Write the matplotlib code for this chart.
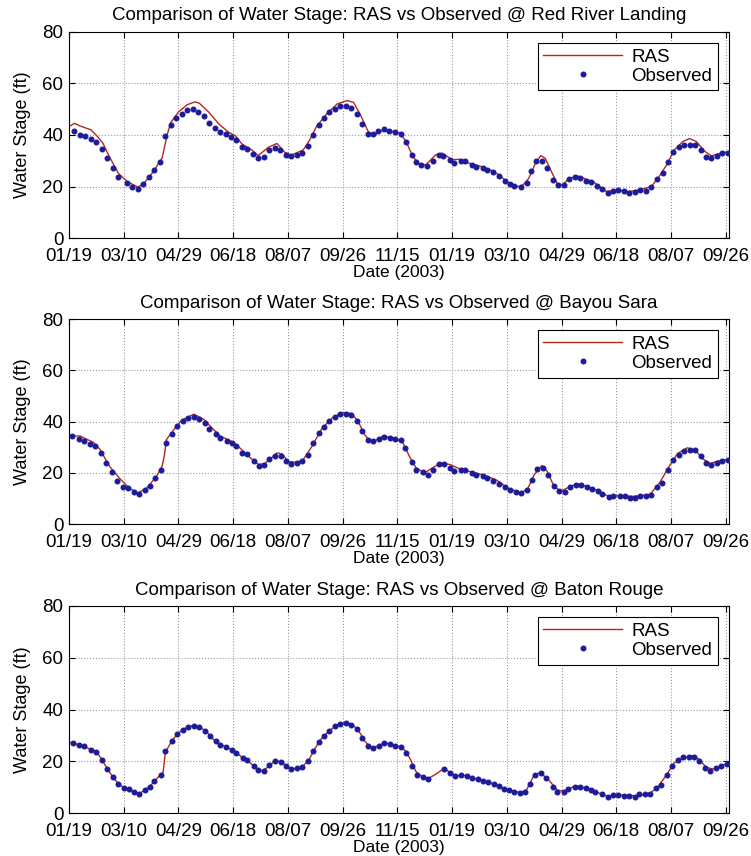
import numpy as np
import matplotlib
matplotlib.use("Agg")
from matplotlib import pyplot as plt

plt.rcParams['font.family'] = ['Liberation Sans', 'DejaVu Sans']

# x axis: days after 01/19/2003, tick every 50 days
tick_days = [0, 50, 100, 150, 200, 250, 300, 350, 400, 450, 500, 550, 600]
tick_labels = ['01/19', '03/10', '04/29', '06/18', '08/07', '09/26', '11/15',
               '01/19', '03/10', '04/29', '06/18', '08/07', '09/26']

# ---- Red River Landing ----
rrl_obs_days = [5, 10, 15, 20, 25, 30, 35, 40, 45, 53, 58, 63, 68, 73, 78, 83, 88, 93, 98, 103,
                108, 113, 118, 123, 128, 133, 138, 143, 148, 153, 158, 163, 168, 173, 178, 183,
                188, 193, 198, 203, 208, 213, 218, 223, 228, 233, 238, 243, 248, 253, 258, 263,
                268, 273, 278, 282, 288, 292, 298, 303, 308, 313, 317, 322, 327, 333, 338, 342,
                348, 352, 358, 362, 368, 372, 378, 382, 387, 393, 398, 403, 407, 413, 418, 422,
                427, 432, 437, 442, 447, 452, 457, 462, 467, 472, 477, 482, 487, 492, 497, 502,
                507, 512, 517, 522, 527, 532, 537, 543, 547, 552, 557, 562, 567, 572, 577, 582,
                587, 592, 597, 602]
rrl_obs = [41.5, 40, 39.5, 38.4, 37.2, 34.5, 30.9, 27.2, 23.9, 21.5, 19.9, 19.2, 21, 23.6, 26.5,
           29.7, 39.7, 43.8, 46.6, 48.2, 49.5, 50.2, 49, 47.4, 44.6, 42.5, 41.1, 40.2, 39.1, 38,
           35.3, 34.7, 32.6, 31, 31.6, 34, 34.9, 34.1, 32.2, 31.8, 32.2, 32.9, 35.8, 40, 43.8,
           46.4, 48.7, 50, 51.3, 51.3, 50.6, 48.2, 44.2, 40.5, 40.4, 41.5, 42.4, 41.7, 41.2, 40.5,
           37.2, 32.2, 29.7, 28.4, 28, 30.1, 32.2, 32, 30.3, 29.3, 30.1, 29.8, 28.4, 27.5, 27.4,
           26.6, 25.6, 24, 22.3, 21, 20.2, 20, 21.3, 26.2, 30.1, 30.1, 27.4, 22.6, 20.7, 20.7,
           23.1, 23.6, 23.5, 22.1, 21.7, 20.3, 19, 17.4, 18.5, 18.7, 18.5, 17.4, 18.1, 18.7, 18.5,
           20, 23, 25.2, 29.7, 33.5, 35.3, 36.2, 36.2, 36.2, 34, 31.6, 30.9, 31.9, 32.9, 33.1]
rrl_ras_days = [1, 5, 10, 20, 26, 31, 36, 45, 53, 63, 68, 77, 85, 90, 93, 100, 108, 115, 119, 128,
                137, 146, 152, 158, 167, 173, 182, 190, 197, 203, 214, 220, 226, 236, 245, 254,
                260, 266, 273, 278, 284, 293, 302, 308, 314, 320, 326, 335, 341, 350, 357, 366,
                375, 384, 393, 402, 411, 415, 420, 426, 431, 435, 440, 446, 451, 457, 465, 473,
                479, 485, 491, 500, 511, 521, 532, 538, 546, 553, 561, 567, 573, 581, 587, 593, 603]
rrl_ras = [43.5, 44.5, 43.5, 42, 39.4, 36.8, 32.3, 25.2, 22, 19.8, 21, 25.8, 31, 40.5, 44.8, 48.9,
           51.7, 52.8, 52.3, 48.7, 44.2, 41, 39.7, 36.5, 34.2, 32, 35.2, 36.7, 33.3, 32.2, 34.2,
           38.1, 43.2, 48.4, 52, 53.3, 52.6, 48, 41.6, 39.4, 41.6, 41.6, 40.8, 37.5, 31.7, 28.8,
           28.4, 32.3, 33, 30.4, 30.6, 29, 28, 26.7, 24.5, 21.3, 20, 20.7, 23.2, 28.9, 32, 31,
           26.5, 21.3, 20.7, 23.2, 24.1, 22.8, 21.9, 20, 18.1, 18.7, 18.1, 18.7, 20, 23.2, 28.4,
           34.2, 37.5, 38.6, 37.5, 33.6, 31.9, 32.7, 33.6]

# ---- Bayou Sara ----
bs_obs_days = [3, 9, 14, 19, 24, 29, 34, 39, 44, 49, 54, 59, 64, 69, 74, 79, 84, 89, 94, 99, 104,
               109, 114, 119, 124, 128, 134, 138, 144, 149, 153, 158, 163, 169, 174, 178, 183, 188,
               194, 198, 203, 208, 213, 218, 223, 228, 233, 238, 243, 248, 253, 258, 263, 268, 273,
               278, 283, 288, 293, 298, 303, 307, 313, 317, 323, 328, 333, 338, 343, 348, 352, 358,
               362, 368, 372, 378, 382, 387, 393, 398, 403, 408, 413, 418, 423, 428, 433, 438, 443,
               448, 453, 458, 463, 468, 473, 478, 483, 487, 493, 497, 503, 508, 513, 517, 522, 527,
               532, 537, 542, 547, 552, 557, 562, 567, 572, 577, 582, 587, 592, 597, 602]
bs_obs = [34.4, 33.1, 32.4, 31.4, 30.4, 27.6, 23.9, 20.4, 17, 14.7, 14.1, 12.5, 11.9, 13.2, 15.1,
          18, 21, 31.5, 35.3, 38.3, 40.1, 41.4, 41.8, 41.2, 39.6, 37, 35, 33.7, 32.4, 31.5, 30.4,
          27.6, 27.2, 24.5, 22.9, 23.1, 25.6, 26.8, 26.5, 24.5, 23.5, 24, 24.5, 27.1, 31.8, 35.4,
          38, 40.2, 42, 43, 43, 42.7, 40.4, 36.3, 32.8, 32.3, 33.1, 34.1, 33.5, 33.1, 32.7, 29.8,
          24.4, 21.3, 20.2, 19.3, 21, 23.5, 23.5, 22, 20.9, 21.3, 21, 20, 19.1, 19, 18, 17, 15.8,
          14.4, 13.5, 12.7, 12.3, 13.2, 17.4, 21.6, 22, 19.2, 15, 12.9, 12.7, 14.7, 15.4, 15.3,
          14.4, 13.8, 12.8, 11.9, 10.6, 11, 11.1, 10.9, 10.3, 10.4, 11.2, 11.2, 11.6, 14.5, 16.1,
          21.3, 25.2, 26.9, 28.6, 28.9, 28.8, 26.5, 23.9, 23, 23.9, 24.8, 25.2]
bs_ras_days = [1, 10, 22, 28, 37, 46, 55, 63, 71, 80, 85, 87, 89, 96, 103, 114, 123, 132, 138, 150,
               156, 164, 173, 179, 190, 195, 200, 208, 214, 222, 231, 241, 250, 258, 264, 270, 275,
               279, 287, 299, 305, 311, 317, 325, 332, 340, 348, 357, 366, 378, 390, 401, 413, 419,
               425, 432, 437, 443, 449, 455, 464, 474, 483, 492, 504, 516, 531, 540, 548, 556, 565,
               572, 580, 586, 595, 603]
bs_ras = [34.4, 34.4, 32, 29.4, 22.6, 18, 14.1, 12.2, 14.1, 18.7, 22.6, 26.5, 33, 37, 40.6, 42.9,
          40.9, 37, 34.4, 32, 29.8, 26.5, 23.3, 23.7, 27.8, 27.4, 24.5, 24.1, 25.2, 30.4, 37.3,
          41.6, 43.5, 43.2, 40.2, 35, 32.4, 32.4, 34.4, 33.3, 31.8, 26.5, 22, 20, 22, 23.9, 23.3,
          21.6, 20.6, 19.3, 17.4, 14.1, 12.2, 13.8, 19.3, 22.9, 20.6, 14.9, 12.8, 14.1, 15.8, 14.7,
          13.1, 11.1, 11.1, 10.9, 11.7, 16.4, 22.4, 27.6, 29.8, 28.9, 25.2, 23.7, 24.9, 25.4]

# ---- Baton Rouge ----
br_obs_days = [4, 9, 14, 20, 25, 30, 35, 40, 45, 50, 55, 59, 64, 69, 74, 78, 84, 88, 94, 99, 104,
               109, 114, 119, 124, 129, 134, 138, 143, 149, 153, 159, 163, 169, 173, 178, 183, 188,
               194, 198, 203, 208, 213, 218, 223, 228, 233, 238, 243, 248, 253, 258, 263, 268, 273,
               278, 283, 288, 293, 298, 303, 308, 313, 318, 323, 328, 343, 348, 353, 358, 364, 368,
               374, 378, 383, 388, 393, 397, 402, 407, 412, 417, 421, 426, 431, 436, 442, 446, 452,
               456, 462, 467, 472, 477, 481, 487, 492, 497, 502, 507, 512, 517, 521, 526, 531, 536,
               541, 546, 551, 556, 561, 566, 571, 576, 581, 586, 591, 596, 601]
br_obs = [27.1, 26.5, 25.8, 24.5, 23.5, 20.7, 17.1, 14.2, 11.2, 9.7, 9.3, 8.1, 7.5, 9, 10.3, 12.6,
          14.8, 23.9, 27.8, 30.7, 32.3, 33.2, 33.8, 33.2, 31.9, 29.7, 27.8, 26.5, 25.4, 24.5, 23.3,
          21.3, 20.4, 18.1, 16.6, 16.5, 18.7, 20, 19.9, 18.1, 17.1, 17.5, 17.8, 20, 23.9, 27.6,
          30, 31.9, 33.6, 34.5, 34.9, 34.2, 32.6, 29.1, 25.8, 25.2, 26.1, 27.1, 26.7, 26.1, 25.4,
          23.3, 18.3, 14.8, 14, 13.4, 17.1, 15.7, 14.5, 14.7, 14.5, 13.5, 13.2, 12.6, 12, 11.2,
          10.6, 9.4, 8.8, 8.4, 7.8, 8.3, 11.4, 14.7, 15.5, 13.6, 10.1, 8.4, 8.1, 9.5, 10.3, 10,
          9.7, 9, 8.3, 7.4, 6.3, 7, 7.1, 6.8, 6.7, 6.4, 7.4, 7.3, 7.5, 9.7, 11, 14.6, 18.1, 20.7,
          21.6, 21.6, 21.9, 20.3, 17.4, 16.5, 17.4, 18.3, 19.1]
br_ras_days = [1, 10, 20, 26, 31, 36, 41, 46, 52, 58, 64, 70, 76, 82, 86, 88, 94, 100, 106, 114,
               120, 126, 132, 138, 145, 152, 158, 164, 170, 176, 181, 188, 194, 200, 206, 213, 219,
               224, 230, 238, 245, 252, 258, 264, 270, 276, 282, 288, 298, 304, 308, 312, 317, 323,
               328, 334, 343, 349, 355, 362, 370, 378, 386, 393, 400, 406, 412, 418, 424, 430, 438,
               446, 453, 462, 473, 485, 493, 506, 519, 531, 538, 546, 553, 561, 570, 576, 582, 588,
               597, 602]
br_ras = [27.4, 26.3, 24.7, 23.3, 20, 16.5, 13.5, 11, 9.6, 8.4, 7.6, 9.1, 11.4, 14.2, 15.8, 23.5,
          28, 31, 32.8, 34, 33.2, 31.3, 28.5, 26.7, 25.3, 23.8, 21.6, 20.1, 17.8, 16.4, 17.6, 20.2,
          19.9, 17.8, 17.2, 17.9, 20.5, 24.5, 28.5, 32, 34, 35, 34.5, 32.3, 28, 25.3, 25.9, 27.2,
          26.3, 25.4, 23.8, 20.7, 16.1, 14, 13.4, 14.8, 17.4, 15.4, 14.5, 14.6, 13.4, 12.6, 11.6,
          10.4, 9.2, 8.6, 8, 9, 14, 15.8, 13, 9, 8.4, 10.6, 9.7, 7.7, 6.4, 7.1, 6.7, 7.8, 10.1,
          14.9, 19.4, 21.3, 22.3, 20.7, 17.8, 17.1, 18.3, 19.7]

stations = [
    ('Red River Landing', rrl_ras_days, rrl_ras, rrl_obs_days, rrl_obs),
    ('Bayou Sara', bs_ras_days, bs_ras, bs_obs_days, bs_obs),
    ('Baton Rouge', br_ras_days, br_ras, br_obs_days, br_obs),
]

fig = plt.figure(figsize=(7.51, 8.56), dpi=100)
# axes boxes in pixels (top, bottom)
boxes = [(31.6, 238.3), (319.0, 524.3), (606.0, 813.3)]
left, right = 69, 729

for (name, rd, rv, od, ov), (top, bot) in zip(stations, boxes):
    ax = fig.add_axes([left / 751, 1 - bot / 856, (right - left) / 751, (bot - top) / 856])
    ax.plot(rd, rv, color='#b3261e', lw=1.0, label='RAS', zorder=2)
    ax.plot(od, ov, ls='none', marker='o', ms=3.3, mfc='#1c1c9a', mec='#1c1c9a',
            label='Observed', zorder=3)
    ax.set_xlim(0, 603)
    ax.set_ylim(0, 80)
    ax.set_xticks(tick_days)
    ax.set_xticklabels(tick_labels)
    ax.set_yticks([0, 20, 40, 60, 80])
    ax.grid(True, ls=':', color='#9a9a9a', lw=0.8)
    ax.tick_params(direction='in', top=True, right=True, labelsize=13.5, length=4)
    ax.tick_params(axis='x', pad=7)
    ax.tick_params(axis='y', pad=4)
    for s in ax.spines.values():
        s.set_linewidth(0.8)
    ax.set_title('Comparison of Water Stage: RAS vs Observed @ ' + name, fontsize=13.5, pad=8)
    ax.set_xlabel('Date (2003)', fontsize=12.5, labelpad=0)
    ax.set_ylabel('Water Stage (ft)', fontsize=13, labelpad=8)
    leg = ax.legend(loc='upper right', fontsize=13.5, handlelength=4.2, handletextpad=0.5,
                    fancybox=False, framealpha=1, edgecolor='black', borderaxespad=0.6,
                    labelspacing=0.1, borderpad=0.3)
    leg.get_frame().set_linewidth(0.8)

fig.savefig('out.png', dpi=100)
